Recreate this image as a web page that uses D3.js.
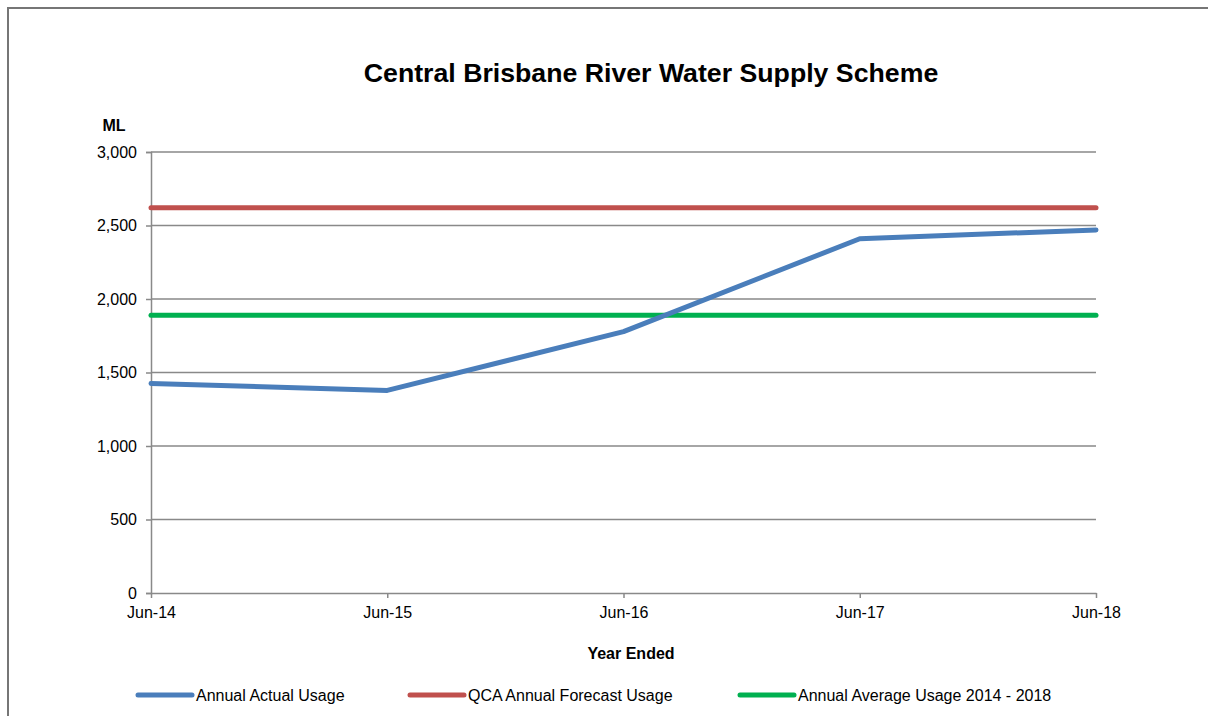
<!DOCTYPE html>
<html>
<head>
<meta charset="utf-8">
<script src="https://cdn.jsdelivr.net/npm/d3@7"></script>
<style>
  html, body { margin: 0; padding: 0; background: #fff; }
  svg { display: block; font-family: "Liberation Sans", Arial, sans-serif; }
</style>
</head>
<body>
<svg id="chart" width="1208" height="716"></svg>
<script>
const categories = ["Jun-14", "Jun-15", "Jun-16", "Jun-17", "Jun-18"];
const actualUsage = [1425, 1378, 1778, 2410, 2470];
const forecastUsage = [2620, 2620, 2620, 2620, 2620];
const averageUsage = [1890, 1890, 1890, 1890, 1890];
const yTicks = [0, 500, 1000, 1500, 2000, 2500, 3000];
const seriesNames = ["Annual Actual Usage", "QCA Annual Forecast Usage", "Annual Average Usage 2014 - 2018"];
const seriesColors = ["#4a7ebb", "#c0504d", "#00b050"];

const series = [
  { name: seriesNames[0], values: actualUsage, color: seriesColors[0] },
  { name: seriesNames[1], values: forecastUsage, color: seriesColors[1] },
  { name: seriesNames[2], values: averageUsage, color: seriesColors[2] }
];

(function () {
const svg = d3.select("#chart");
const pLeft = 151, pRight = 1096, pTop = 152, pBottom = 593;
const FONT = "Liberation Sans, Arial, sans-serif";

// outer frame (left & top edges visible)
svg.append("path")
  .attr("d", "M8,716 L8,8 L1208,8")
  .attr("fill", "none").attr("stroke", "#767676").attr("stroke-width", 2);

const x = d3.scalePoint().domain(categories).range([pLeft, pRight]);
const y = d3.scaleLinear().domain([0, 3000]).range([pBottom, pTop]);

// gridlines
svg.append("g").selectAll("line")
  .data(yTicks.filter(d => d > 0))
  .join("line")
  .attr("x1", pLeft).attr("x2", pRight)
  .attr("y1", d => y(d)).attr("y2", d => y(d))
  .attr("stroke", "#898989").attr("stroke-width", 1.5);

// y axis
const yAxis = d3.axisLeft(y).tickValues(yTicks).tickSize(5).tickPadding(9)
  .tickFormat(d3.format(","));
const gy = svg.append("g").attr("transform", `translate(${pLeft},0)`).call(yAxis);
gy.attr("font-size", 16).attr("font-family", FONT);
gy.select(".domain").attr("stroke", "#898989").attr("stroke-width", 1.5);
gy.selectAll(".tick line").attr("stroke", "#898989").attr("stroke-width", 1.5);
gy.selectAll("text").attr("font-size", 16).attr("fill", "#000");

// x axis
const xAxis = d3.axisBottom(x).tickSize(5).tickPadding(9).tickSizeOuter(0);
const gx = svg.append("g").attr("transform", `translate(0,${pBottom})`).call(xAxis);
gx.attr("font-size", 16).attr("font-family", FONT);
gx.select(".domain").attr("stroke", "#898989").attr("stroke-width", 1.5);
gx.selectAll(".tick line").attr("stroke", "#898989").attr("stroke-width", 1.5);
gx.selectAll("text").attr("font-size", 16).attr("fill", "#000");

// lines
const line = d3.line().x((d, i) => x(categories[i])).y(d => y(d));
svg.append("g").selectAll("path")
  .data([series[2], series[1], series[0]])
  .join("path")
  .attr("d", d => line(d.values))
  .attr("fill", "none")
  .attr("stroke", d => d.color)
  .attr("stroke-width", 5)
  .attr("stroke-linecap", "round")
  .attr("stroke-linejoin", "round");

// title
svg.append("text")
  .attr("x", 651).attr("y", 82)
  .attr("text-anchor", "middle")
  .attr("font-size", 26.7).attr("font-weight", "bold").attr("fill", "#000")
  .text("Central Brisbane River Water Supply Scheme");

// y axis unit
svg.append("text")
  .attr("x", 114).attr("y", 131)
  .attr("text-anchor", "middle")
  .attr("font-size", 16).attr("font-weight", "bold").attr("fill", "#000")
  .text("ML");

// x axis title
svg.append("text")
  .attr("x", 631).attr("y", 659)
  .attr("text-anchor", "middle")
  .attr("font-size", 16).attr("font-weight", "bold").attr("fill", "#000")
  .text("Year Ended");

// legend
const legendX = [138, 410, 740];
const lg = svg.append("g").selectAll("g")
  .data(series)
  .join("g")
  .attr("transform", (d, i) => `translate(${legendX[i]},695)`);
lg.append("line")
  .attr("x1", 0).attr("x2", 54).attr("y1", 0).attr("y2", 0)
  .attr("stroke", d => d.color).attr("stroke-width", 5).attr("stroke-linecap", "round");
lg.append("text")
  .attr("x", 58).attr("y", 6)
  .attr("font-size", 16).attr("fill", "#000")
  .text(d => d.name);
})();
</script>
</body>
</html>
